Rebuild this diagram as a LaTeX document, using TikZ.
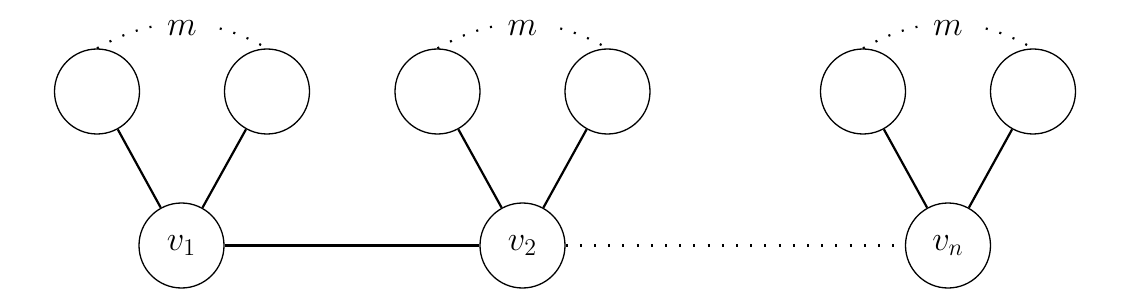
\documentclass[tikz,border=0pt]{standalone}
\begin{document}
\begin{tikzpicture}[x=0.5pt,y=-0.5pt,
  vtx/.style={circle,draw,line width=0.65pt,minimum size=42.5pt,inner sep=0pt,font=\LARGE},
  edge/.style={line width=1.1pt},
  dots/.style={line width=1.1pt,dash pattern=on 1pt off 6.1pt},
  lab/.style={fill=white,inner sep=7pt,font=\LARGE}]
\useasboundingbox (0,0) rectangle (1130,294);
\node[vtx] (v1) at (181.5,245.5) {$v_1$};
\node[vtx] (v2) at (522.5,245.5) {$v_2$};
\node[vtx] (vn) at (948,245.5) {$v_n$};
\node[vtx] (a1) at (97,91.5) {};
\node[vtx] (b1) at (267,91.5) {};
\node[vtx] (a2) at (437.5,91.5) {};
\node[vtx] (b2) at (607.5,91.5) {};
\node[vtx] (an) at (863,91.5) {};
\node[vtx] (bn) at (1033,91.5) {};
\draw[edge] (v1) -- (a1);
\draw[edge] (v1) -- (b1);
\draw[edge] (v2) -- (a2);
\draw[edge] (v2) -- (b2);
\draw[edge] (vn) -- (an);
\draw[edge] (vn) -- (bn);
\draw[edge] (v1) -- (v2);
\draw[dots] (v2) -- (vn);
\draw[dots] (a1.north) to[bend left] node[lab,yshift=-2.5pt] {$m$} (b1.north);
\draw[dots] (a2.north) to[bend left] node[lab,yshift=-2.5pt] {$m$} (b2.north);
\draw[dots] (an.north) to[bend left] node[lab,yshift=-2.5pt] {$m$} (bn.north);
\end{tikzpicture}
\end{document}
